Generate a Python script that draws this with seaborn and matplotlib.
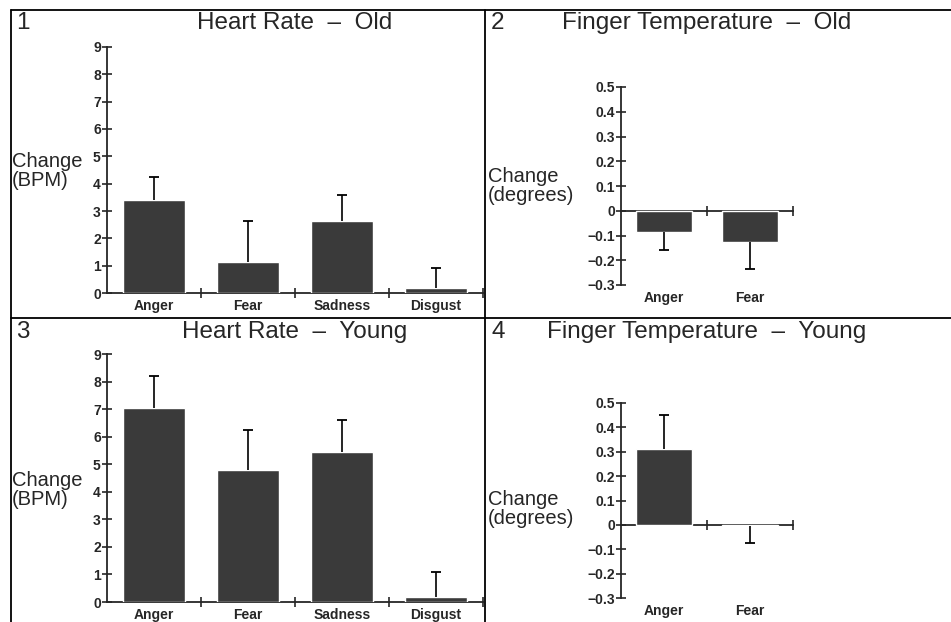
import matplotlib
matplotlib.use("Agg")
import matplotlib.pyplot as plt
import seaborn as sns
from matplotlib.lines import Line2D

# data
hr_cats = ["Anger", "Fear", "Sadness", "Disgust"]
hr_old = [3.4, 1.15, 2.65, 0.17]
hr_old_se = [0.85, 1.5, 0.95, 0.73]
hr_young = [7.05, 4.8, 5.45, 0.18]
hr_young_se = [1.15, 1.45, 1.15, 0.92]
hr_ticks = [0, 1, 2, 3, 4, 5, 6, 7, 8, 9]

ft_cats = ["Anger", "Fear"]
ft_old = [-0.085, -0.125]
ft_old_se = [0.075, 0.11]
ft_young = [0.31, -0.005]
ft_young_se = [0.14, 0.07]
ft_ticks = [-0.3, -0.2, -0.1, 0, 0.1, 0.2, 0.3, 0.4, 0.5]

sns.set_style("white")
plt.rcParams["font.family"] = ["Liberation Sans", "DejaVu Sans"]

BAR = "#3a3a3a"
W, H = 951, 622


def fmt_tick(v):
    if v == 0:
        return "0"
    if float(v).is_integer():
        return str(int(v))
    return f"{v:.1f}".replace("-", "\u2212")


def panel(fig, rect, cats, vals, se, ticks):
    ax = fig.add_axes(rect)
    sns.barplot(x=cats, y=vals, ax=ax, color=BAR, width=0.66,
                errorbar=None, saturation=1)
    # one-sided error bars: stem away from zero, cap only at the far end
    ends = [v + s if v >= 0 else v - s for v, s in zip(vals, se)]
    xs = list(range(len(cats)))
    ax.vlines(xs, vals, ends, color="black", lw=1.2)
    ax.plot(xs, ends, ls="none", marker="_", ms=7, mew=1.3, color="black")
    ymin, ymax = ticks[0], ticks[-1]
    ax.set_ylim(ymin, ymax)
    ax.set_xlim(-0.5, len(cats) - 0.5)
    ax.set_yticks(ticks, [fmt_tick(t) for t in ticks])
    for s in ["top", "right", "bottom"]:
        ax.spines[s].set_visible(False)
    ax.spines["left"].set_linewidth(1.3)
    ax.tick_params(axis="y", left=True, direction="inout", length=7,
                   width=1.2, labelsize=10, pad=1)
    ax.tick_params(axis="x", length=0, labelsize=10, pad=4)
    for lab in ax.get_yticklabels() + ax.get_xticklabels():
        lab.set_fontweight("bold")
    ax.set_xlabel("")
    ax.set_ylabel("")
    # zero line with category-boundary ticks
    loc = (0 - ymin) / (ymax - ymin)
    sec = ax.secondary_xaxis(loc)
    sec.set_xticks([i + 0.5 for i in range(len(cats))], [""] * len(cats))
    sec.tick_params(bottom=True, direction="inout", length=7, width=1.2)
    sec.spines["bottom"].set_linewidth(1.3)
    return ax


fig = plt.figure(figsize=(W / 100, H / 100), dpi=100)


def fx(px):
    return px / W


def fy(py):
    return 1 - py / H


def rect(x0, x1, ytop, ybot):
    return [fx(x0), fy(ybot), fx(x1) - fx(x0), fy(ytop) - fy(ybot)]


panel(fig, rect(107, 483, 47, 293), hr_cats, hr_old, hr_old_se, hr_ticks)
panel(fig, rect(107, 483, 354, 602), hr_cats, hr_young, hr_young_se, hr_ticks)
panel(fig, rect(621, 793, 87, 285), ft_cats, ft_old, ft_old_se, ft_ticks)
panel(fig, rect(621, 793, 403, 598), ft_cats, ft_young, ft_young_se, ft_ticks)

# panel frames
for xs, ys in [([11, 951], [10, 10]), ([11, 951], [318, 318]),
               ([11, 11], [10, 622]), ([485, 485], [10, 622])]:
    fig.add_artist(Line2D([fx(x) for x in xs], [fy(y) for y in ys],
                          color="black", lw=1.3))

title_kw = dict(fontsize=17.5, va="center")
fig.text(fx(16), fy(23), "1", ha="left", **title_kw)
fig.text(fx(295), fy(23), "Heart Rate  \u2013  Old", ha="center", **title_kw)
fig.text(fx(491), fy(23), "2", ha="left", **title_kw)
fig.text(fx(707), fy(23), "Finger Temperature  \u2013  Old", ha="center", **title_kw)
fig.text(fx(16), fy(332), "3", ha="left", **title_kw)
fig.text(fx(295), fy(332), "Heart Rate  \u2013  Young", ha="center", **title_kw)
fig.text(fx(491), fy(332), "4", ha="left", **title_kw)
fig.text(fx(707), fy(332), "Finger Temperature  \u2013  Young", ha="center", **title_kw)

lab_kw = dict(fontsize=14.5, ha="left", va="center", linespacing=0.95)
fig.text(fx(12), fy(171), "Change\n(BPM)", **lab_kw)
fig.text(fx(12), fy(490), "Change\n(BPM)", **lab_kw)
fig.text(fx(488), fy(186), "Change\n(degrees)", **lab_kw)
fig.text(fx(488), fy(509), "Change\n(degrees)", **lab_kw)

fig.savefig("out.png", dpi=100)
